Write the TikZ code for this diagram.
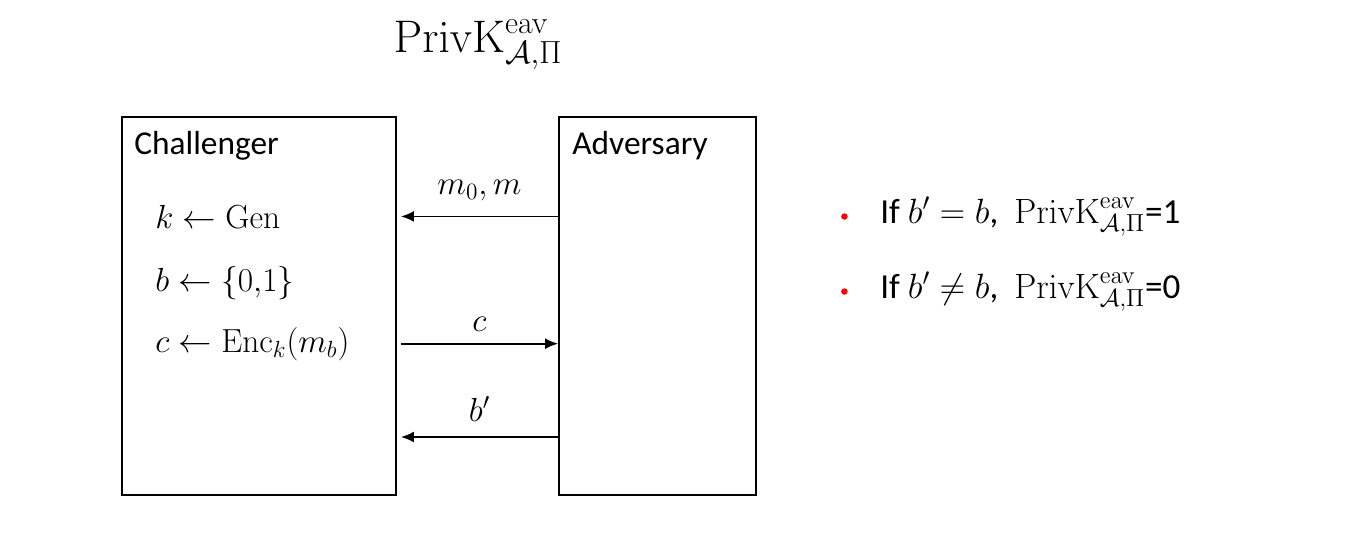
\documentclass[tikz,border=0pt]{standalone}
\usepackage{fix-cm}
\usepackage{amsmath}
\usepackage{amssymb}
\usepackage[no-math]{fontspec}
\newfontfamily\calibri{Carlito}
\usetikzlibrary{positioning}
\usetikzlibrary{arrows.meta}

\newcommand{\privk}{\mathrm{PrivK}^{\mathrm{eav}}_{\mathcal{A},\Pi}}

\begin{document}
\begin{tikzpicture}[
party/.style={draw, line width=1.1pt, minimum width=5.48cm, minimum height=7.56cm, inner sep=0pt},
partyname/.style={anchor=west, inner sep=0pt, font=\calibri\fontsize{19}{22}\selectfont},
rule/.style={anchor=base west, inner sep=0pt, font=\fontsize{19}{22}\selectfont},
msg/.style={-{Latex[length=2.6mm,width=2.2mm]}, line width=1pt},
lbl/.style={midway, above, inner sep=0pt, font=\fontsize{19}{22}\selectfont},
reddot/.style={circle, fill=red, inner sep=0pt, minimum size=1.3mm},
outcome/.style={anchor=base west, inner sep=0pt, font=\calibri\fontsize{20}{24}\selectfont}
]
\useasboundingbox (0,0) rectangle (27.1,10.84);
%Nodes
\node[font=\fontsize{26}{30}\selectfont] (title) at (9.56,9.94) {$\privk$};

\node[party]                        (chal) at (5.18,4.72)  {};
\node[party, minimum width=3.94cm]  (adv)  at (13.15,4.72) {};

\node[partyname] (chalname) at (2.68,7.92)  {Challenger};
\node[partyname] (advname)  at (11.44,7.92) {Adversary};

\node[rule] (kgen) at (3.1,6.28) {$k \leftarrow \mathrm{Gen}$};
\node[rule] (bsel) at (3.1,5.02) {$b \leftarrow \{0{,}1\}$};
\node[rule] (cenc) at (3.1,3.8)  {$c \leftarrow \mathrm{Enc}_k(m_b)$};
\coordinate (guess) at (0,2.1);

\node[outcome] (win)  at (17.6,6.38) {If $b' = b$,\ \ $\privk$=1};
\node[outcome] (lose) at (17.6,4.88) {If $b' \neq b$,\ \ $\privk$=0};
\node[reddot] (dot1) [left=0.64cm of win.west]  {};
\node[reddot] (dot2) [left=0.64cm of lose.west] {};

%Lines
\draw[msg] (adv.west |- kgen.center) -- ([xshift=0.08cm]chal.east |- kgen.center)
    node[lbl, yshift=0.3cm] {$m_0, m$};
\draw[msg] ([xshift=0.08cm]chal.east |- cenc.center) -- (adv.west |- cenc.center)
    node[lbl, yshift=0.22cm] {$c$};
\draw[msg] (adv.west |- guess) -- ([xshift=0.08cm]chal.east |- guess)
    node[lbl, yshift=0.3cm] {$b'$};
\end{tikzpicture}
\end{document}
